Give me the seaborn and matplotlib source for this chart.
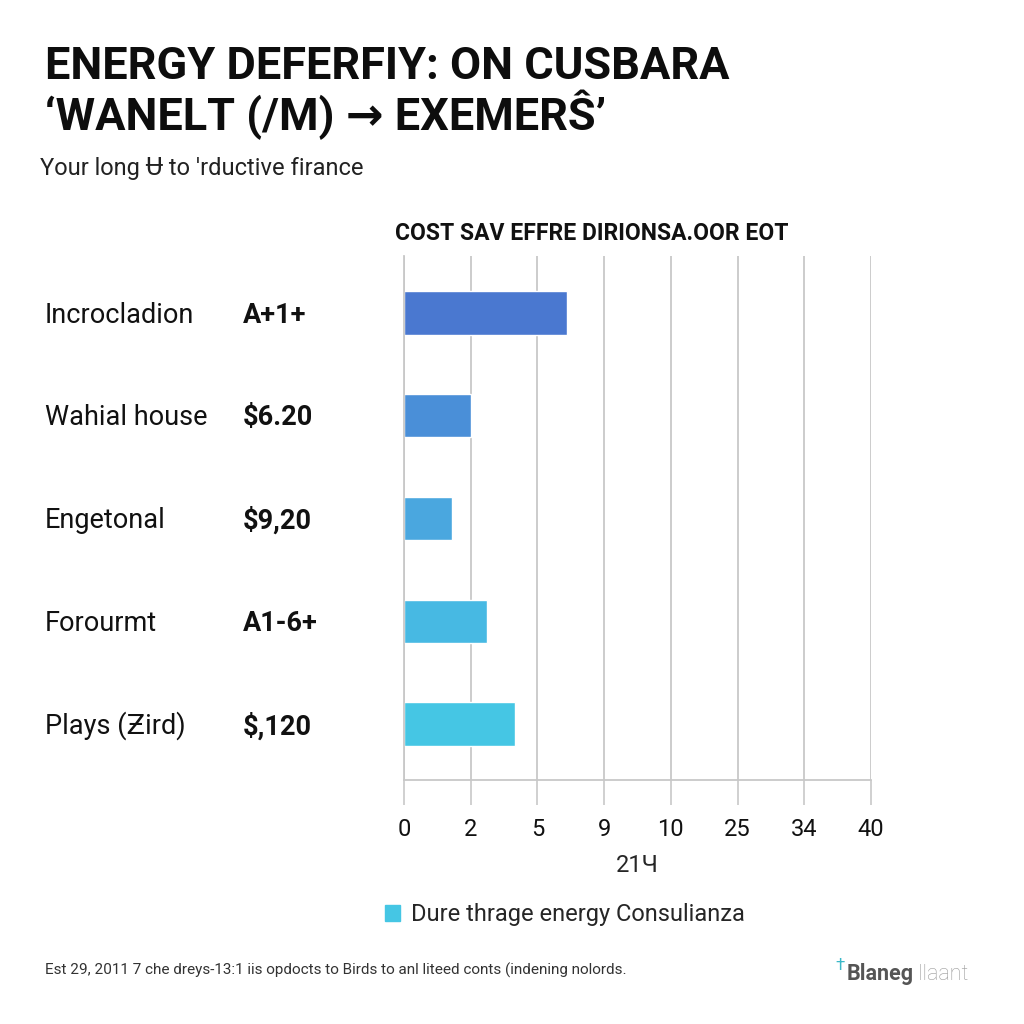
import matplotlib
matplotlib.use("Agg")
import matplotlib.pyplot as plt
import seaborn as sns
from matplotlib.patches import Patch
from matplotlib.transforms import blended_transform_factory

# data
categories = ["Incrocladion", "Wahial house", "Engetonal", "Forourmt", "Plays (Ƶird)"]
value_labels = ["A+1+", "$6.20", "$9,20", "A1-6+", "$,120"]
# bar lengths in tick-slot units (the axis ticks are evenly spaced)
savings = [2.44, 1.0, 0.72, 1.24, 1.66]
tick_labels = ["0", "2", "5", "9", "10", "25", "34", "40"]
bar_colors = ["#4a78d0", "#4a8fd8", "#4aa7df", "#47b9e3", "#45c6e4"]

sns.set_theme(style="white")
plt.rcParams["font.family"] = ["Roboto", "DejaVu Sans"]

fig = plt.figure(figsize=(10.24, 10.24), dpi=100)
ax = fig.add_axes([404 / 1024, 1 - 780 / 1024, 467 / 1024, 524 / 1024])

sns.barplot(x=savings, y=categories, hue=categories, palette=bar_colors,
            legend=False, orient="h", width=0.42, saturation=1, ax=ax)

ax.set_xlim(0, len(tick_labels) - 1)
ax.set_ylim(4.545, -0.555)
ax.set_xticks(range(len(tick_labels)))
ax.set_xticklabels(tick_labels)
ax.set_yticks([])
ax.set_xlabel("21Ч", fontsize=17, labelpad=10)
ax.set_ylabel("")
ax.tick_params(axis="x", length=18, width=1.2, color="#c8c8c8",
               labelsize=17, pad=9, bottom=True, labelcolor="#111111")
ax.grid(axis="x", color="#c8c8c8", lw=1.3)
ax.set_axisbelow(True)
for side in ["top", "right"]:
    ax.spines[side].set_visible(False)
for side in ["left", "bottom"]:
    ax.spines[side].set_color("#c8c8c8")
    ax.spines[side].set_linewidth(1.3)

# row labels on the left
trans = blended_transform_factory(fig.transFigure, ax.transData)
for i, (c, v) in enumerate(zip(categories, value_labels)):
    ax.text(45 / 1024, i + 0.02, c, transform=trans, fontsize=19.5, va="center",
            ha="left", color="#111111")
    ax.text(243 / 1024, i + 0.02, v, transform=trans, fontsize=19.5, va="center",
            ha="left", fontweight="bold", color="#111111")

# titles
fig.text(45 / 1024, 1 - 67 / 1024, "ENERGY DEFERFIY: ON CUSBARA", fontsize=32.5,
         fontweight="bold", va="center", ha="left", color="#0d0d0d")
fig.text(45 / 1024, 1 - 115 / 1024, "‘WANELT (/M) → EXEMERŜ’", fontsize=32.5,
         fontweight="bold", va="center", ha="left", color="#0d0d0d")
fig.text(40 / 1024, 1 - 168 / 1024, "Your long Ʉ to 'rductive firance", fontsize=17,
         va="center", ha="left", color="#222222")
fig.text(592 / 1024, 1 - 234 / 1024, "COST SAV EFFRE DIRIONSA.OOR EOT", fontsize=16.5,
         fontweight="bold", va="center", ha="center", color="#111111")

# legend
fig.legend(handles=[Patch(color=bar_colors[-1])],
           labels=["Dure thrage energy Consulianza"],
           loc="center left", bbox_to_anchor=(385 / 1024, 1 - 915 / 1024),
           frameon=False, fontsize=17, handlelength=0.65, handleheight=0.65,
           handletextpad=0.45, borderpad=0, borderaxespad=0)

# footer
fig.text(45 / 1024, 1 - 970 / 1024,
         "Est 29, 2011 7 che dreys-13:1 iis opdocts to Birds to anl liteed conts (indening nolords.",
         fontsize=11, va="center", ha="left", color="#333333")
fig.text(835 / 1024, 1 - 966 / 1024, "†", fontsize=12, va="center", ha="left",
         color="#3bb8c8")
fig.text(847 / 1024, 1 - 974 / 1024, "Blaneg", fontsize=15.5, fontweight="bold",
         va="center", ha="left", color="#555555")
fig.text(918 / 1024, 1 - 974 / 1024, "llaant", fontsize=15.5, fontweight="light",
         va="center", ha="left", color="#9a9a9a")

fig.savefig("out.png", dpi=100, facecolor="white")
